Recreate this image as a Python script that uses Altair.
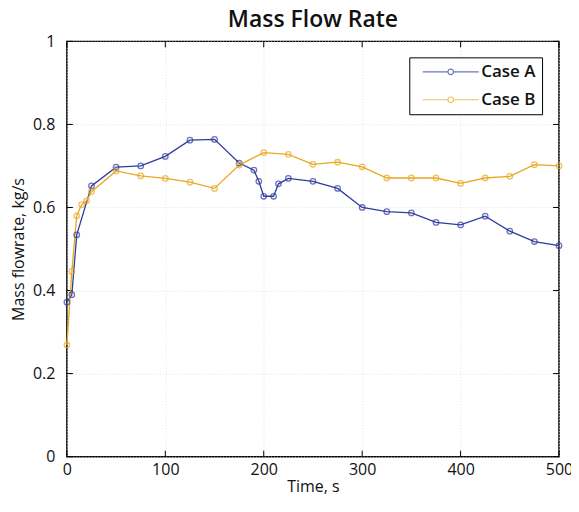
import altair as alt
import pandas as pd

series_names = ["Case A", "Case B"]

a_time = [0, 5, 10, 25, 50, 75, 100, 125, 150, 175, 190, 195, 200, 210, 215, 225,
          250, 275, 300, 325, 350, 375, 400, 425, 450, 475, 500]
a_flow = [0.372, 0.39, 0.534, 0.652, 0.697, 0.70, 0.723, 0.762, 0.764, 0.707, 0.69,
          0.663, 0.627, 0.627, 0.657, 0.670, 0.663, 0.646, 0.600, 0.590, 0.587,
          0.564, 0.558, 0.579, 0.543, 0.518, 0.508]

b_time = [0, 5, 10, 15, 20, 25, 50, 75, 100, 125, 150, 175, 200, 225, 250, 275,
          300, 325, 350, 375, 400, 425, 450, 475, 500]
b_flow = [0.269, 0.446, 0.58, 0.607, 0.616, 0.638, 0.688, 0.676, 0.670, 0.661,
          0.646, 0.702, 0.732, 0.728, 0.704, 0.709, 0.698, 0.671, 0.671, 0.671,
          0.658, 0.671, 0.675, 0.703, 0.700]

x_ticks = [0, 100, 200, 300, 400, 500]
y_ticks = [0, 0.2, 0.4, 0.6, 0.8, 1.0]

df = pd.concat([
    pd.DataFrame({"time": a_time, "flow": a_flow, "series": series_names[0]}),
    pd.DataFrame({"time": b_time, "flow": b_flow, "series": series_names[1]}),
])
xt = pd.DataFrame({"t": x_ticks})
yt = pd.DataFrame({"v": y_ticks})

W, H = 493, 416
FONT = "Open Sans"

xs = alt.Scale(domain=[0, 500], nice=False)
ys = alt.Scale(domain=[0, 1], nice=False)
cs = alt.Scale(domain=series_names, range=["#2f3c9c", "#e9a820"])

legend_path = ("M-4,0L-0.4,0M0.4,0L4,0"
               "M0.4,0A0.4,0.4,0,1,1,-0.4,0A0.4,0.4,0,1,1,0.4,0")

base = alt.Chart(df).encode(
    x=alt.X("time:Q", scale=xs,
            axis=alt.Axis(values=x_ticks, title="Time, s", tickSize=0,
                          labelPadding=5, titlePadding=1, domain=False,
                          labelFlush=False, grid=True)),
    y=alt.Y("flow:Q", scale=ys,
            axis=alt.Axis(values=y_ticks, title="Mass flowrate, kg/s", format="~g",
                          tickSize=0, labelPadding=12, titlePadding=6,
                          labelFlush=False, domain=False, grid=True)),
    color=alt.Color("series:N", scale=cs,
                    legend=alt.Legend(title=None, orient="none", legendX=343, legendY=16,
                                      symbolType=legend_path, symbolSize=196,
                                      symbolStrokeWidth=1.2, symbolOffset=27,
                                      labelOffset=22, labelFontSize=17,
                                      labelFont=FONT, labelFontWeight=600,
                                      labelColor="#111",
                                      strokeColor="black", fillColor="white",
                                      padding=6, rowPadding=10)),
    order="time:Q",
)

lines = base.mark_line(strokeWidth=1.3)
points = base.mark_point(shape="circle", filled=False, size=30, strokeWidth=1.3)

tick_len = 6
bx = alt.Chart(xt).mark_rule(color="black", strokeWidth=1).encode(
    x=alt.X("t:Q", scale=xs), y=alt.value(H), y2=alt.value(H - tick_len))
tx = alt.Chart(xt).mark_rule(color="black", strokeWidth=1).encode(
    x=alt.X("t:Q", scale=xs), y=alt.value(0), y2=alt.value(tick_len))
ly = alt.Chart(yt).mark_rule(color="black", strokeWidth=1).encode(
    y=alt.Y("v:Q", scale=ys), x=alt.value(0), x2=alt.value(tick_len))
ry = alt.Chart(yt).mark_rule(color="black", strokeWidth=1).encode(
    y=alt.Y("v:Q", scale=ys), x=alt.value(W), x2=alt.value(W - tick_len))

chart = alt.layer(bx, tx, ly, ry, lines, points).properties(
    width=W, height=H,
    background="white",
    title=alt.Title("Mass Flow Rate", font=FONT, fontSize=23, fontWeight=600,
                    color="#111", offset=1, anchor="middle"),
    autosize=alt.AutoSizeParams(type="none"),
    padding={"left": 59, "top": 33, "right": 12, "bottom": 41},
).configure_view(
    stroke="black", strokeWidth=1.5
).configure_axis(
    labelFont=FONT, labelFontSize=16, labelColor="#111",
    titleFont=FONT, titleFontSize=16, titleFontWeight="normal", titleColor="#111",
    gridColor="#d4dae8", gridDash=[1, 2], gridWidth=0.8,
)

chart.save("out.html", embed_options={"renderer": "svg", "actions": False})
